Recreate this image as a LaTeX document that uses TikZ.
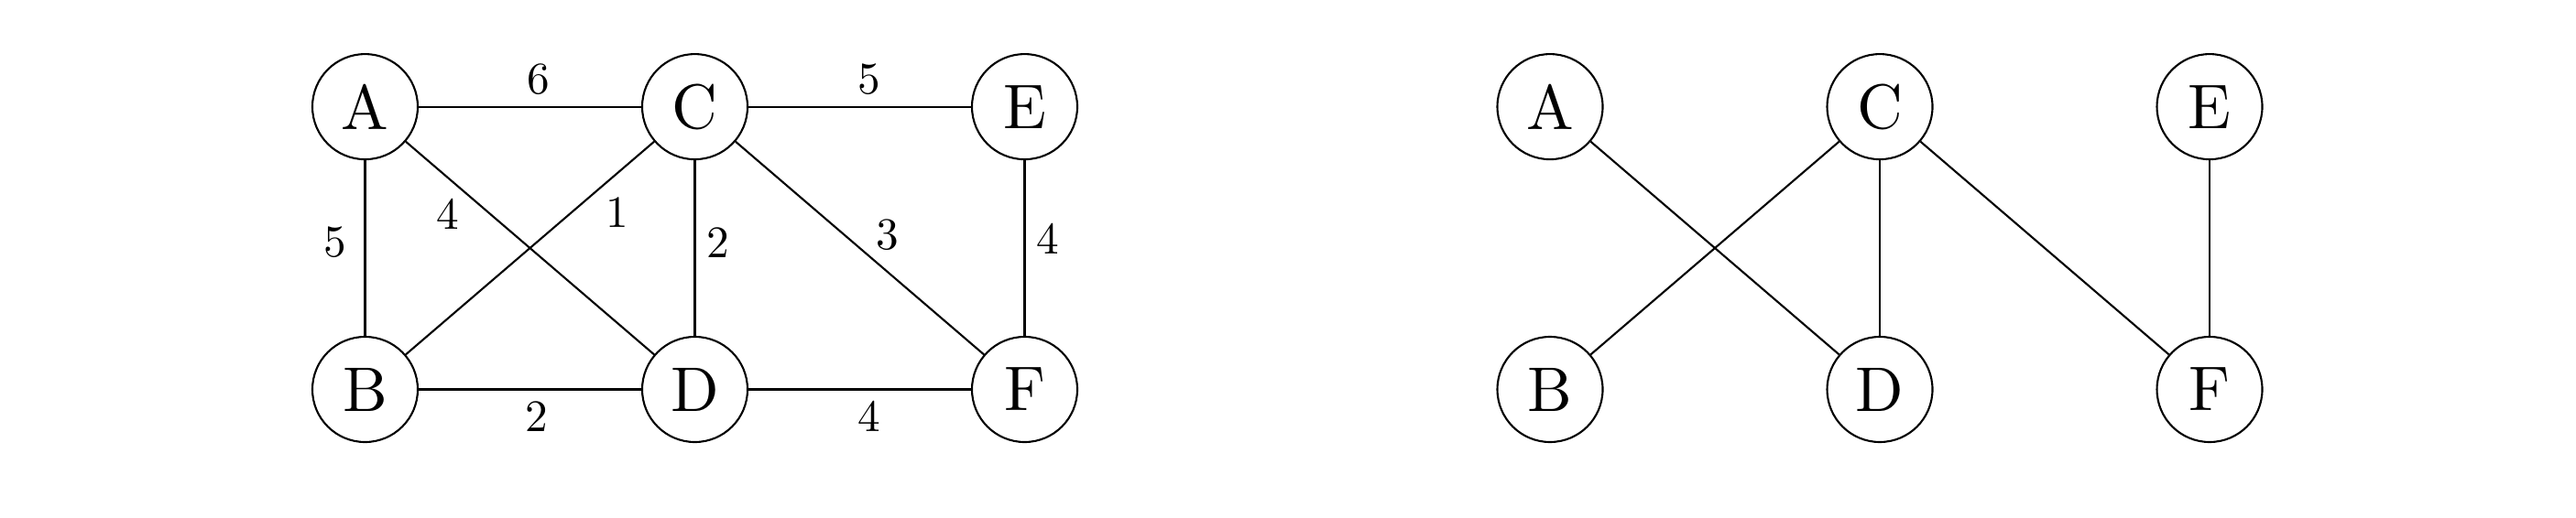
\documentclass[tikz,border=0pt]{standalone}
\usetikzlibrary{calc}

\newcommand{\vname}[1]{\scalebox{1.96}{\fontsize{10}{12}\selectfont #1}}
\newcommand{\wnum}[1]{\scalebox{1.4}{\fontsize{10}{12}\selectfont #1}}

\begin{document}
\begin{tikzpicture}[semithick, vertex/.style={circle, draw, minimum size=1.15cm, inner sep=0pt}, weight/.style={font=\fontsize{14}{16}\selectfont}]
  \useasboundingbox (0,0) rectangle (28.12,-5.66);

  % weighted graph
  \node[vertex] (a) at (3.985,-1.166) {\vname{A}};
  \node[vertex] (c) at (7.585,-1.166) {\vname{C}};
  \node[vertex] (e) at (11.185,-1.166) {\vname{E}};
  \node[vertex] (b) at (3.985,-4.255) {\vname{B}};
  \node[vertex] (d) at (7.585,-4.255) {\vname{D}};
  \node[vertex] (f) at (11.185,-4.255) {\vname{F}};

\draw (a) -- (c) node[weight, anchor=south, midway, xshift=0.09cm] {\wnum{6}} ;
\draw (c) -- (e) node[weight, anchor=south, midway, xshift=0.1cm] {\wnum{5}} ;
\draw (a) -- (b) node[weight, anchor=east, midway, xshift=-0.08cm, yshift=0.06cm] {\wnum{5}} ;
\draw (a) -- (d) node[weight, anchor=north, pos=0.17, yshift=-0.1cm] {\wnum{4}} ;
\draw (b) -- (c) node[weight, anchor=north, pos=0.85, yshift=-0.13cm] {\wnum{1}} ;
\draw (c) -- (d) node[weight, anchor=west, midway, yshift=0.06cm] {\wnum{2}} ;
\draw (c) -- (f) node[weight, anchor=south, pos=0.61, yshift=0.1cm] {\wnum{3}} ;
\draw (e) -- (f) node[weight, anchor=west, midway, yshift=0.1cm] {\wnum{4}} ;
\draw (b) -- (d) node[weight, anchor=north, midway, xshift=0.07cm] {\wnum{2}} ;
\draw (d) -- (f) node[weight, anchor=north, midway, xshift=0.1cm] {\wnum{4}} ;

  % spanning tree
  \node[vertex] (ta) at (16.92,-1.166) {\vname{A}};
  \node[vertex] (tc) at (20.52,-1.166) {\vname{C}};
  \node[vertex] (te) at (24.12,-1.166) {\vname{E}};
  \node[vertex] (tb) at (16.92,-4.255) {\vname{B}};
  \node[vertex] (td) at (20.52,-4.255) {\vname{D}};
  \node[vertex] (tf) at (24.12,-4.255) {\vname{F}};

\draw (ta) -- (td) ;
\draw (tb) -- (tc) ;
\draw (tc) -- (td) ;
\draw (tc) -- (tf) ;
\draw (te) -- (tf) ;

\end{tikzpicture}
\end{document}
